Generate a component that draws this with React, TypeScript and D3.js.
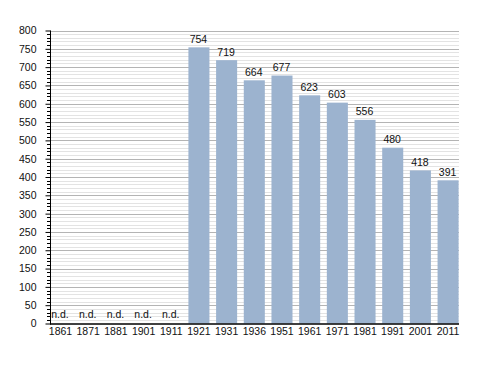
import React, { useRef, useEffect } from 'react';
import * as d3 from 'd3';

const YEARS = ['1861', '1871', '1881', '1901', '1911', '1921', '1931', '1936', '1951', '1961', '1971', '1981', '1991', '2001', '2011'];
const POPULATION: (number | null)[] = [null, null, null, null, null, 754, 719, 664, 677, 623, 603, 556, 480, 418, 391];
const Y_TICKS = d3.range(0, 801, 50);

const BAR_COLOR = '#9cb3cf';
const FONT = 'Liberation Sans, Arial, sans-serif';
const FS = 10.5;

export default function App() {
  const ref = useRef<SVGSVGElement | null>(null);

  useEffect(() => {
    const svg = d3.select(ref.current);
    svg.selectAll('*').remove();

    const left = 50, right = 459, top = 30.5, bottom = 323.5;

    const x = d3.scaleBand()
      .domain(YEARS)
      .range([left, right - 0.4])
      .paddingInner(0.24)
      .paddingOuter(0);

    const y = d3.scaleLinear().domain([0, 800]).range([bottom, top]);

    const minor = d3.range(10, 801, 10).filter(v => v % 50 !== 0);

    // minor grid every 10
    svg.append('g')
      .selectAll('line')
      .data(minor)
      .join('line')
      .attr('x1', left)
      .attr('x2', right)
      .attr('y1', d => Math.round(y(d)) + 0.5)
      .attr('y2', d => Math.round(y(d)) + 0.5)
      .attr('stroke', '#e3e3e3');

    // major grid every 50
    svg.append('g')
      .selectAll('line')
      .data(Y_TICKS.filter(v => v > 0))
      .join('line')
      .attr('x1', left)
      .attr('x2', right)
      .attr('y1', d => Math.round(y(d)) + 0.5)
      .attr('y2', d => Math.round(y(d)) + 0.5)
      .attr('stroke', '#b4b4b4');

    // bars
    const withValue = YEARS.map((yr, i) => ({ yr, v: POPULATION[i] }));
    svg.append('g')
      .selectAll('rect')
      .data(withValue.filter(d => d.v !== null))
      .join('rect')
      .attr('x', d => x(d.yr)!)
      .attr('y', d => y(d.v as number))
      .attr('width', x.bandwidth())
      .attr('height', d => y(0) - y(d.v as number))
      .attr('fill', BAR_COLOR);

    // value labels
    svg.append('g')
      .selectAll('text')
      .data(withValue)
      .join('text')
      .attr('x', d => x(d.yr)! + x.bandwidth() / 2 - 0.5)
      .attr('y', d => (d.v === null ? y(0) - 6 : y(d.v) - 4.5))
      .attr('text-anchor', 'middle')
      .attr('font-family', FONT)
      .attr('font-size', FS)
      .attr('fill', '#111')
      .text(d => (d.v === null ? 'n.d.' : String(d.v)));

    // y axis
    const yAxis = svg.append('g')
      .attr('transform', `translate(${left + 0.5},0)`)
      .call(d3.axisLeft(y).tickValues(Y_TICKS).tickSize(5).tickPadding(9));
    yAxis.select('.domain').remove();
    yAxis.selectAll('text').attr('font-family', FONT).attr('font-size', FS).attr('fill', '#111');
    yAxis.selectAll('line').attr('stroke', '#000');

    // minor ticks
    svg.append('g')
      .selectAll('line')
      .data(minor)
      .join('line')
      .attr('x1', left - 3)
      .attr('x2', left)
      .attr('y1', d => Math.round(y(d)) + 0.5)
      .attr('y2', d => Math.round(y(d)) + 0.5)
      .attr('stroke', '#000');

    svg.append('line')
      .attr('x1', left + 0.5).attr('x2', left + 0.5)
      .attr('y1', top).attr('y2', bottom + 1)
      .attr('stroke', '#000');

    // x axis
    const xAxis = svg.append('g')
      .attr('transform', `translate(0,${bottom})`)
      .call(d3.axisBottom(x).tickSize(0).tickPadding(4));
    xAxis.select('.domain').remove();
    xAxis.selectAll('text').attr('font-family', FONT).attr('font-size', FS).attr('fill', '#111');

    svg.append('line')
      .attr('x1', left).attr('x2', right)
      .attr('y1', bottom + 0.5).attr('y2', bottom + 0.5)
      .attr('stroke', '#000')
      .attr('stroke-width', 1.3);
  }, []);

  return (
    <svg
      ref={ref}
      width={488}
      height={373}
      style={{ position: 'absolute', left: 0, top: 0, background: '#fff' }}
    />
  );
}
